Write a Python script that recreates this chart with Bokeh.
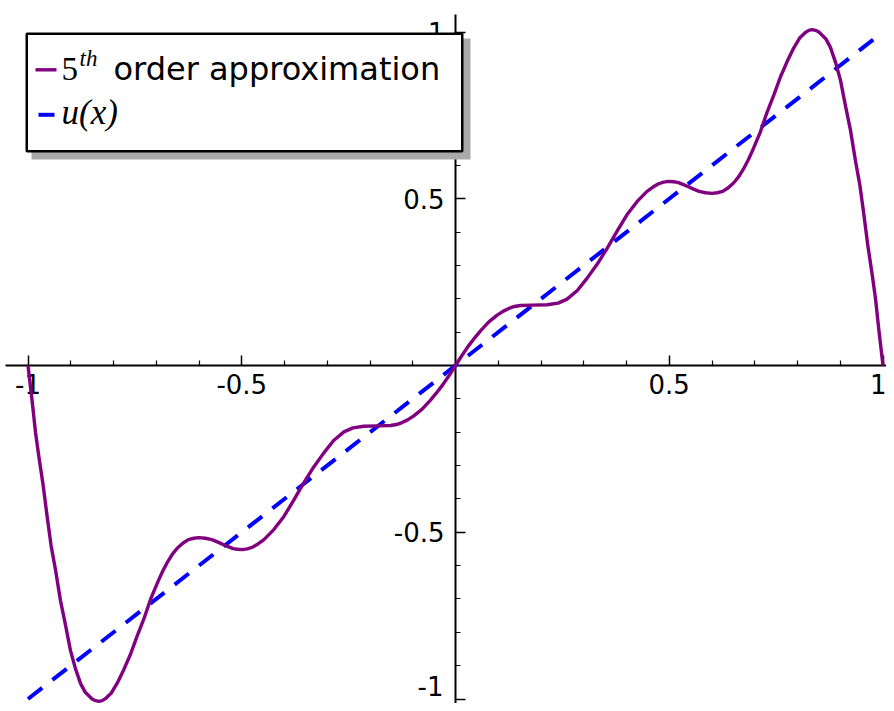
from bokeh.plotting import figure
from bokeh.models import Range1d, FixedTicker
from bokeh.core.properties import value
from bokeh.embed import file_html
from bokeh.resources import INLINE

# ---- data ----
left_x = [-1.000, -0.990, -0.9825, -0.975, -0.9645, -0.955, -0.946, -0.936, -0.924, -0.912,
          -0.9006, -0.889, -0.877, -0.866, -0.850, -0.842, -0.834, -0.8265, -0.819, -0.805,
          -0.791, -0.776, -0.760, -0.745, -0.729, -0.713, -0.695, -0.685, -0.674, -0.663,
          -0.651, -0.638, -0.625, -0.612, -0.600, -0.585, -0.570, -0.557, -0.545, -0.532,
          -0.520, -0.510, -0.499, -0.487, -0.475, -0.462, -0.448, -0.425, -0.401, -0.378,
          -0.355, -0.332, -0.308, -0.285, -0.261, -0.240, -0.2145, -0.180, -0.152, -0.138,
          -0.125, -0.112, -0.0975, -0.078, -0.0585, -0.045, -0.030, -0.015]
left_y = [0.000, -0.110, -0.200, -0.270, -0.360, -0.455, -0.540, -0.610, -0.705, -0.780,
          -0.855, -0.909, -0.954, -0.980, -1.000, -1.005, -1.007, -1.005, -0.999, -0.982,
          -0.952, -0.912, -0.865, -0.812, -0.760, -0.700, -0.645, -0.617, -0.590, -0.567,
          -0.548, -0.533, -0.522, -0.518, -0.516, -0.518, -0.522, -0.529, -0.536, -0.543,
          -0.549, -0.551, -0.552, -0.550, -0.545, -0.535, -0.522, -0.492, -0.452, -0.403,
          -0.352, -0.305, -0.262, -0.225, -0.199, -0.187, -0.182, -0.181, -0.180, -0.177,
          -0.171, -0.163, -0.151, -0.131, -0.104, -0.083, -0.058, -0.030]
right_x = [0.000, 0.015, 0.030, 0.045, 0.0585, 0.078, 0.0975, 0.112, 0.125, 0.138,
           0.152, 0.180, 0.2145, 0.240, 0.261, 0.285, 0.308, 0.332, 0.355, 0.378,
           0.401, 0.425, 0.448, 0.462, 0.475, 0.487, 0.499, 0.510, 0.520, 0.532,
           0.545, 0.557, 0.570, 0.585, 0.600, 0.612, 0.625, 0.638, 0.651, 0.663,
           0.674, 0.685, 0.695, 0.713, 0.729, 0.745, 0.760, 0.776, 0.791, 0.805,
           0.819, 0.8265, 0.834, 0.842, 0.850, 0.866, 0.877, 0.889, 0.9006, 0.912,
           0.924, 0.936, 0.946, 0.955, 0.9645, 0.975, 0.9825, 0.990, 1.000]
right_y = [0.000, 0.030, 0.058, 0.083, 0.104, 0.131, 0.151, 0.163, 0.171, 0.177,
           0.180, 0.181, 0.182, 0.187, 0.199, 0.225, 0.262, 0.305, 0.352, 0.403,
           0.452, 0.492, 0.522, 0.535, 0.545, 0.550, 0.552, 0.551, 0.549, 0.543,
           0.536, 0.529, 0.522, 0.518, 0.516, 0.518, 0.522, 0.533, 0.548, 0.567,
           0.590, 0.617, 0.645, 0.700, 0.760, 0.812, 0.865, 0.912, 0.952, 0.982,
           0.999, 1.005, 1.007, 1.005, 1.000, 0.980, 0.954, 0.909, 0.855, 0.780,
           0.705, 0.610, 0.540, 0.455, 0.360, 0.270, 0.200, 0.110, 0.000]
approx_x = left_x + right_x
approx_y = left_y + right_y

u_x = [-1.0, 1.0]
u_y = [-1.0, 1.0]

x_ticks = [-1, -0.5, 0.5, 1]
x_tick_labels = ["-1", "-0.5", "0.5", "1"]
y_ticks = [-1, -0.5, 0.5, 1]
y_tick_labels = ["-1", "-0.5", "0.5", "1"]
minor_ticks = [-0.9, -0.8, -0.7, -0.6, -0.4, -0.3, -0.2, -0.1,
               0.1, 0.2, 0.3, 0.4, 0.6, 0.7, 0.8, 0.9]

legend_labels = ["order approximation", "u(x)"]

# ---- layout helpers (picture pixel -> data) ----
W, H = 886, 703
def dx(px):
    return (px - 455.0) / 427.5
def dy(py):
    return (365.0 - py) / 333.5

p = figure(width=W, height=H, output_backend="svg", toolbar_location=None,
           x_range=Range1d(dx(0), dx(W)), y_range=Range1d(dy(H), dy(0)),
           min_border=0, min_border_left=0, min_border_right=0,
           min_border_top=0, min_border_bottom=0)
p.outline_line_color = None
p.xgrid.visible = False
p.ygrid.visible = False
p.background_fill_color = "white"
p.border_fill_color = "white"

FONT = "DejaVu Sans"
TICK_SIZE = "26px"

for ax, ticks, labels in ((p.xaxis, x_ticks, x_tick_labels), (p.yaxis, y_ticks, y_tick_labels)):
    ax.fixed_location = 0
    ax.ticker = FixedTicker(ticks=ticks, minor_ticks=minor_ticks)
    ax.axis_line_width = 2
    ax.axis_line_color = "black"
    ax.major_tick_in = 10
    ax.major_tick_out = 0
    ax.minor_tick_in = 5
    ax.minor_tick_out = 0
    ax.major_tick_line_width = 1.5
    ax.minor_tick_line_width = 1.2
    ax.major_tick_line_color = "black"
    ax.minor_tick_line_color = "black"
    ax.major_label_text_font = FONT
    ax.major_label_text_font_size = TICK_SIZE
    ax.major_label_text_color = "black"

p.xaxis.major_label_overrides = dict(zip(x_ticks, x_tick_labels))
# the lowest y label sits at the page's lower edge: it is drawn as a text below
y_over = dict(zip(y_ticks, y_tick_labels))
y_over[y_ticks[0]] = ""
p.yaxis.major_label_overrides = y_over

p.xaxis.major_label_standoff = 8
p.yaxis.major_label_standoff = 11
p.yaxis.bounds = (dy(H), dy(14))
p.xaxis.bounds = (dx(5), dx(W))

p.text(x=[dx(455 - 12)], y=[dy(685)], text=[y_tick_labels[0]], text_font=value(FONT),
       text_font_size=TICK_SIZE, text_baseline="middle", text_align="right",
       text_color="black")

# ---- curves ----
p.line(u_x, u_y, line_color="#0000ff", line_width=4, line_dash="18 13", level="annotation")
p.line(approx_x, approx_y, line_color="#800080", line_width=3.4, line_join="round",
       level="annotation")

# ---- legend box ----
p.quad(left=[dx(31)], right=[dx(470)], top=[dy(38)], bottom=[dy(159)],
       fill_color="#a9a9a9", line_color=None, level="overlay")
p.quad(left=[dx(26.25)], right=[dx(461.75)], top=[dy(33.25)], bottom=[dy(150.75)],
       fill_color="white", line_color="black", line_width=2.5, level="overlay")
p.segment(x0=[dx(35)], x1=[dx(56)], y0=[dy(69.3)], y1=[dy(69.3)],
          line_color="#800080", line_width=3.4, level="overlay")
p.segment(x0=[dx(38)], x1=[dx(54)], y0=[dy(114.3)], y1=[dy(114.3)],
          line_color="#0000ff", line_width=4, level="overlay")
p.text(x=[dx(61)], y=[dy(68)], text=["5"], text_font=value("Liberation Serif"),
       text_font_size="33px", text_baseline="middle", text_align="left",
       text_color="black", level="overlay")
p.text(x=[dx(79)], y=[dy(58)], text=["th"], text_font=value("Liberation Serif"),
       text_font_size="23px", text_font_style="italic", text_baseline="middle",
       text_align="left", text_color="black", level="overlay")
p.text(x=[dx(113)], y=[dy(68)], text=[legend_labels[0]], text_font=value(FONT),
       text_font_size="32px", text_baseline="middle", text_align="left",
       text_color="black", level="overlay")
p.text(x=[dx(61)], y=[dy(112)], text=[legend_labels[1]], text_font=value("Liberation Serif"),
       text_font_size="35px", text_font_style="italic", text_baseline="middle",
       text_align="left", text_color="black", level="overlay")

open("out.html", "w").write(file_html(p, INLINE))
